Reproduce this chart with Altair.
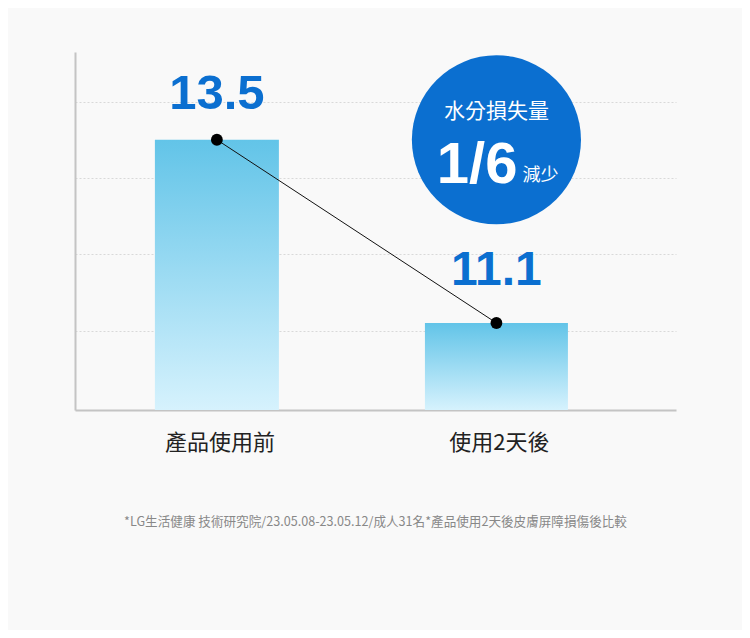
import altair as alt
import pandas as pd

CATEGORIES = ["產品使用前", "使用2天後"]
VALUES = [13.5, 11.1]
VALUE_LABELS = ["13.5", "11.1"]
Y_DOMAIN = [9.96, 14.65]
GRID_VALUES = [11, 12, 13, 14]
BADGE_TITLE = ["水分損失量"]
BADGE_VALUE = ["1/6"]
BADGE_SUFFIX = ["減少"]
FOOTNOTE = "*LG生活健康 技術研究院/23.05.08-23.05.12/成人31名*產品使用2天後皮膚屏障損傷後比較"

BLUE = "#0b6fd0"
CJK = "Noto Sans CJK TC"

df = pd.DataFrame({"cat": CATEGORIES, "value": VALUES, "label": VALUE_LABELS})
badge = pd.DataFrame({
    "cat": [CATEGORIES[1]],
    "value": [VALUES[0]],
    "title": BADGE_TITLE,
    "big": BADGE_VALUE,
    "suffix": BADGE_SUFFIX,
})

x = alt.X(
    "cat:N",
    sort=CATEGORIES,
    scale=alt.Scale(paddingInner=0.524, paddingOuter=0.337, align=0.4),
    axis=alt.Axis(
        title=None, labelAngle=0, labelFontSize=22, labelColor="#222222",
        labelFont=CJK, labelPadding=22, labelOffset=3, ticks=False,
        domainColor="#c4c4c4", domainWidth=2, grid=False,
    ),
)
y = alt.Y(
    "value:Q",
    scale=alt.Scale(domain=Y_DOMAIN, nice=False, zero=False),
    axis=alt.Axis(
        title=None, labels=False, ticks=False, values=GRID_VALUES,
        domainColor="#c4c4c4", domainWidth=2, grid=True,
        gridColor="#d9d9d9", gridDash=[2, 2], gridWidth=1,
    ),
)
y2 = alt.datum(Y_DOMAIN[0])

grad = alt.Gradient(
    gradient="linear", x1=0, y1=0, x2=0, y2=1,
    stops=[
        alt.GradientStop(color="#62c4e8", offset=0),
        alt.GradientStop(color="#d6f2fd", offset=1),
    ],
)

base = alt.Chart(df)

bar1 = base.transform_filter(alt.datum.cat == CATEGORIES[0]).mark_bar(
    width=124, fill=grad
).encode(x=x, y=y, y2=y2)
bar2 = base.transform_filter(alt.datum.cat == CATEGORIES[1]).mark_bar(
    width=143, fill=grad
).encode(x=x, y=y, y2=y2)

lab1 = base.transform_filter(alt.datum.cat == CATEGORIES[0]).mark_text(
    font="Liberation Sans", fontWeight="bold", fontSize=49, color=BLUE,
    baseline="alphabetic", dy=-31,
).encode(x=x, y=y, text="label:N")
lab2 = base.transform_filter(alt.datum.cat == CATEGORIES[1]).mark_text(
    font="Liberation Sans", fontWeight="bold", fontSize=48, color=BLUE,
    baseline="alphabetic", dy=-38,
).encode(x=x, y=y, text="label:N")

line = base.mark_line(color="#111111", strokeWidth=1).encode(x=x, y=y)
dots = base.mark_circle(size=140, color="#000000", opacity=1).encode(x=x, y=y)

bcircle = alt.Chart(badge).mark_circle(size=28600, color=BLUE, opacity=1).encode(x=x, y=y)
btitle = alt.Chart(badge).mark_text(
    font=CJK, fontSize=21, color="white", baseline="middle", dy=-28
).encode(x=x, y=y, text="title:N")
bbig = alt.Chart(badge).mark_text(
    font="Liberation Sans", fontWeight="bold", fontSize=58, color="white",
    baseline="alphabetic", align="right", dx=21, dy=43,
).encode(x=x, y=y, text="big:N")
bsuf = alt.Chart(badge).mark_text(
    font=CJK, fontSize=18, color="white", baseline="alphabetic",
    align="left", dx=26, dy=41,
).encode(x=x, y=y, text="suffix:N")

chart = alt.layer(
    bar1, bar2, line, dots, lab1, lab2, bcircle, btitle, bbig, bsuf
).properties(
    width=601,
    height=358,
    autosize=alt.AutoSizeParams(type="none"),
    padding={"left": 67, "top": 44, "right": 66, "bottom": 220},
    background="#f9f9f9",
    title=alt.TitleParams(
        FOOTNOTE, orient="bottom", anchor="middle", frame="group",
        fontSize=12.6, color="#888888", font=CJK, fontWeight="normal", offset=63,
    ),
).configure_view(stroke=None)

chart.save("out.html", embed_options={"renderer": "svg", "actions": False})
